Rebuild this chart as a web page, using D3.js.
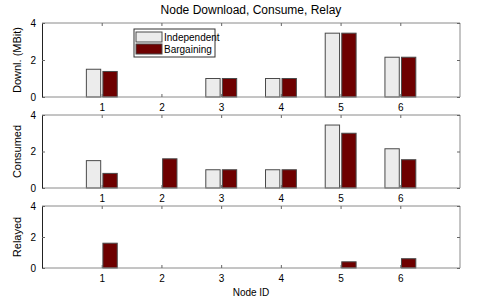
<!DOCTYPE html>
<html><head><meta charset="utf-8">
<script src="https://cdn.jsdelivr.net/npm/d3@7"></script>
<style>body{margin:0;background:#fff}svg{display:block}text{font-family:"Liberation Sans",Arial,sans-serif;fill:#000}</style>
</head><body>
<script>
const nodes = [1, 2, 3, 4, 5, 6];
const seriesNames = ["Independent", "Bargaining"];
const downIndependent = [1.5, 0, 1.0, 1.0, 3.45, 2.15];
const downBargaining = [1.38, 0, 1.0, 1.0, 3.45, 2.15];
const consIndependent = [1.5, 0, 1.0, 1.0, 3.45, 2.15];
const consBargaining = [0.8, 1.6, 1.0, 1.0, 3.0, 1.55];
const relayIndependent = [0, 0, 0, 0, 0, 0];
const relayBargaining = [1.6, 0, 0, 0, 0.4, 0.6];
const yTicks = [0, 2, 4];
const title = "Node Download, Consume, Relay";
const xLabel = "Node ID";

const W = 485, H = 305;
const svg = d3.select("body").append("svg").attr("width", W).attr("height", H);
const colors = ["#ececec", "#6e0000"];
const x = d3.scaleLinear().domain([0, 7]).range([42, 460]);
const barW = 0.24, offs = [-0.137, 0.14];

const panels = [
  {label: "Downl. (MBit)", data: [downIndependent, downBargaining], top: 23, bottom: 97},
  {label: "Consumed", data: [consIndependent, consBargaining], top: 115, bottom: 188},
  {label: "Relayed", data: [relayIndependent, relayBargaining], top: 206, bottom: 268}
];

svg.append("text").attr("x", 251).attr("y", 14).attr("text-anchor", "middle")
  .style("font-size", "12px").text(title);

panels.forEach((p, pi) => {
  const y = d3.scaleLinear().domain([0, 4]).range([p.bottom, p.top]);
  const g = svg.append("g");
  p.data.forEach((vals, si) => {
    g.selectAll(null).data(vals.map((v, i) => ({v, n: nodes[i]})).filter(d => d.v > 0))
      .enter().append("rect")
      .attr("x", d => x(d.n + offs[si] - barW / 2))
      .attr("width", x(barW) - x(0))
      .attr("y", d => y(d.v))
      .attr("height", d => y(0) - y(d.v))
      .attr("fill", colors[si])
      .attr("stroke", "#4a4a4a").attr("stroke-width", 1);
  });
  const x0 = x.range()[0], x1 = x.range()[1];
  g.append("line").attr("x1", x0).attr("x2", x1).attr("y1", p.top).attr("y2", p.top).attr("stroke", "#8a8a8a");
  g.append("line").attr("x1", x0).attr("x2", x1).attr("y1", p.bottom).attr("y2", p.bottom).attr("stroke", "#8a8a8a");
  g.append("line").attr("x1", x1).attr("x2", x1).attr("y1", p.top).attr("y2", p.bottom).attr("stroke", "#8a8a8a");
  const ax = d3.axisBottom(x).tickValues(nodes).tickSize(-3).tickPadding(7).tickFormat(d3.format("d"));
  const bg = g.append("g").attr("transform", `translate(0,${p.bottom})`).call(ax);
  bg.select(".domain").remove();
  bg.selectAll(".tick line").attr("stroke", "#666");
  bg.selectAll("text").style("font-size", "10px").attr("font-family", "Liberation Sans, Arial");
  const tg = g.append("g").attr("transform", `translate(0,${p.top})`).call(d3.axisTop(x).tickValues(nodes).tickSize(-3).tickFormat(""));
  tg.select(".domain").remove();
  tg.selectAll(".tick line").attr("stroke", "#666");
  const ly = g.append("g").attr("transform", `translate(${x0},0)`)
    .call(d3.axisLeft(y).tickValues(yTicks).tickSize(-3).tickPadding(6).tickFormat(d3.format("d")));
  ly.select(".domain").attr("stroke", "#222");
  ly.selectAll(".tick line").attr("stroke", "#666");
  ly.selectAll("text").style("font-size", "10px").attr("font-family", "Liberation Sans, Arial");
  const ry = g.append("g").attr("transform", `translate(${x1},0)`).call(d3.axisRight(y).tickValues(yTicks).tickSize(-3).tickFormat(""));
  ry.select(".domain").remove();
  ry.selectAll(".tick line").attr("stroke", "#666");
  svg.append("text").attr("transform", `translate(21,${(p.top + p.bottom) / 2}) rotate(-90)`)
    .attr("text-anchor", "middle").style("font-size", "11px").text(p.label);
});

svg.append("text").attr("x", 251).attr("y", 296).attr("text-anchor", "middle").style("font-size", "10px").text(xLabel);

const lg = svg.append("g").attr("transform", "translate(134,29)");
lg.append("rect").attr("width", 81).attr("height", 28).attr("fill", "#fff").attr("stroke", "#333");
seriesNames.forEach((s, i) => {
  lg.append("rect").attr("x", 2).attr("y", 3 + i * 12).attr("width", 26).attr("height", 10)
    .attr("fill", colors[i]).attr("stroke", "#4a4a4a");
  lg.append("text").attr("x", 30).attr("y", 12 + i * 12).style("font-size", "10px").text(s);
});
</script>
</body></html>
